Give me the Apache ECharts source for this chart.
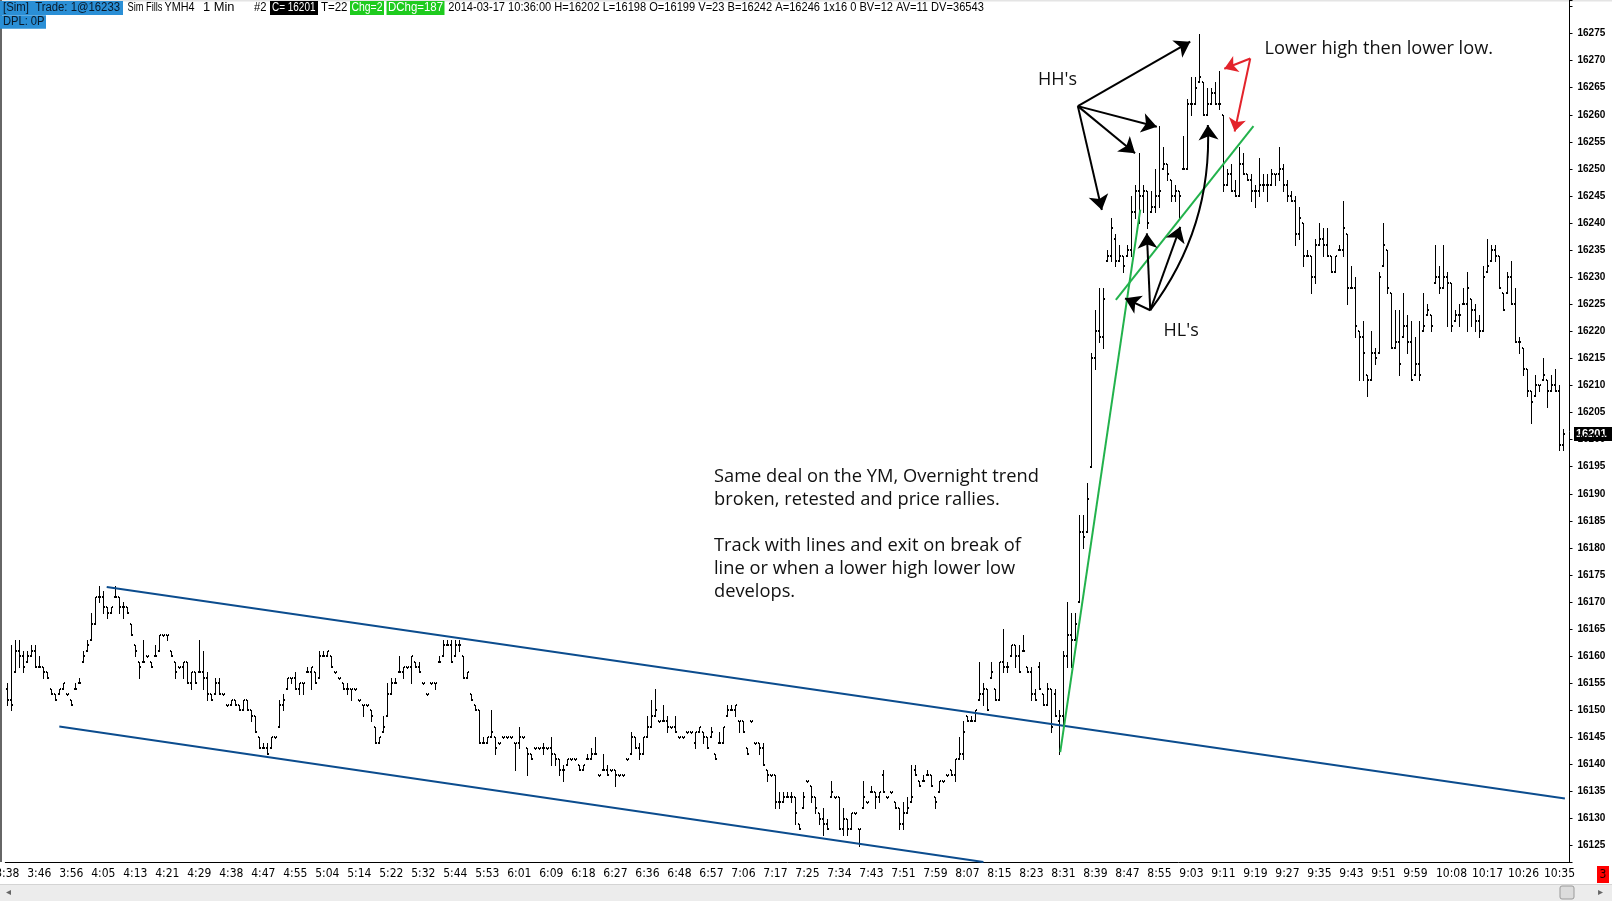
<!DOCTYPE html>
<html lang="en">
<head>
<meta charset="UTF-8">
<title>YMH4 1 Min</title>
<script src="https://cdn.jsdelivr.net/npm/echarts@6/dist/echarts.min.js"></script>
<style>
  html, body { margin: 0; padding: 0; background: #fff; }
  #chart { width: 1612px; height: 901px; }
</style>
</head>
<body>
<div id="chart"></div>
<script>
// axis time labels and the bar each one sits under
const tickTimes = ['3:38','3:46','3:56','4:05','4:13','4:21','4:29','4:38','4:47','4:55',
  '5:04','5:14','5:22','5:32','5:44','5:53','6:01','6:09','6:18','6:27','6:36','6:48','6:57',
  '7:06','7:17','7:25','7:34','7:43','7:51','7:59','8:07','8:15','8:23','8:31','8:39','8:47',
  '8:55','9:03','9:11','9:19','9:27','9:35','9:43','9:51','9:59','10:08','10:17','10:26','10:35'];
const tickBars = [0,8,16,24,32,40,48,56,64,72,80,88,96,104,112,120,128,136,144,152,160,168,176,
  184,192,200,208,216,224,232,240,248,256,264,272,280,288,296,304,312,320,328,336,344,352,
  361,370,379,388];

// 1 minute OHLC
const opens = [
  16154,16152,16157,16161,16160,16159,16160,16161,16158,16158,
  16157,16154,16153,16153,16154,16153,16152,16154,16155,16159,
  16161,16163,16166,16171,16171,16169,16168,16171,16171,16169,
  16169,16166,16162,16159,16159,16160,16159,16160,16161,16164,
  16164,16161,16159,16158,16158,16159,16155,16157,16157,16157,
  16156,16153,16153,16155,16153,16151,16151,16152,16151,16150,
  16152,16150,16149,16145,16143,16143,16143,16145,16147,16151,
  16154,16156,16156,16154,16155,16157,16157,16157,16156,16160,
  16160,16160,16157,16156,16155,16154,16154,16154,16152,16151,
  16151,16150,16147,16144,16146,16149,16153,16155,16157,16157,
  16158,16158,16159,16158,16155,16153,16155,16155,16159,16160,
  16162,16162,16160,16162,16160,16156,16153,16151,16150,16144,
  16144,16145,16145,16144,16145,16145,16145,16144,16144,16145,
  16143,16142,16143,16143,16143,16143,16143,16142,16141,16139,
  16140,16141,16141,16140,16139,16141,16141,16142,16138,16139,
  16139,16139,16139,16138,16138,16141,16142,16145,16143,16142,
  16145,16147,16149,16148,16148,16148,16147,16147,16145,16145,
  16146,16146,16144,16146,16146,16145,16145,16142,16144,16144,
  16149,16150,16150,16148,16148,16143,16148,16144,16144,16143,
  16139,16138,16138,16133,16133,16134,16134,16134,16129,16132,
  16137,16136,16134,16131,16130,16129,16134,16134,16134,16128,
  16130,16128,16131,16128,16132,16133,16135,16135,16134,16138,
  16134,16135,16133,16132,16129,16131,16133,16139,16137,16137,
  16138,16138,16134,16135,16137,16138,16139,16138,16141,16142,
  16149,16148,16148,16152,16153,16154,16156,16154,16152,16159,
  16158,16160,16162,16160,16161,16158,16157,16153,16158,16153,
  16151,16154,16153,16148,16149,16160,16164,16163,16170,16183,
  16183,16195,16215,16220,16219,16233,16234,16237,16233,16234,
  16234,16235,16242,16246,16245,16246,16242,16243,16245,16250,
  16251,16248,16245,16246,16250,16250,16262,16262,16266,16266,
  16260,16262,16264,16262,16260,16247,16249,16246,16245,16251,
  16249,16248,16246,16246,16247,16247,16247,16249,16249,16250,
  16247,16245,16244,16238,16240,16234,16234,16230,16236,16237,
  16236,16234,16231,16235,16235,16238,16228,16228,16220,16219,
  16212,16211,16216,16216,16232,16235,16227,16217,16218,16219,
  16221,16218,16212,16214,16220,16223,16223,16229,16230,16228,
  16230,16229,16222,16223,16225,16225,16226,16224,16222,16220,
  16231,16233,16235,16234,16227,16227,16230,16225,16218,16217,
  16213,16209,16208,16210,16211,16211,16209,16210,16209,16199
];
const highs = [
  16155,16162,16163,16163,16161,16161,16162,16162,16160,16158,
  16157,16154,16153,16154,16155,16153,16152,16155,16156,16161,
  16163,16168,16171,16173,16172,16169,16169,16173,16171,16170,
  16169,16166,16162,16159,16163,16160,16159,16162,16164,16164,
  16164,16161,16159,16158,16159,16159,16157,16157,16163,16161,
  16157,16153,16156,16156,16153,16151,16152,16152,16151,16152,
  16152,16150,16149,16145,16144,16144,16145,16145,16152,16153,
  16156,16156,16157,16155,16155,16158,16158,16157,16161,16161,
  16161,16160,16157,16156,16155,16155,16154,16154,16152,16151,
  16151,16150,16147,16145,16149,16155,16156,16156,16160,16158,
  16158,16160,16159,16159,16155,16153,16155,16155,16160,16163,
  16163,16163,16163,16163,16160,16157,16153,16151,16150,16145,
  16145,16150,16145,16144,16145,16145,16145,16144,16147,16145,
  16143,16142,16143,16143,16144,16143,16145,16142,16141,16140,
  16141,16141,16141,16140,16140,16142,16143,16145,16138,16142,
  16140,16139,16139,16138,16138,16141,16146,16145,16144,16145,
  16149,16152,16154,16148,16151,16149,16147,16149,16145,16145,
  16146,16146,16146,16147,16146,16145,16147,16142,16146,16147,
  16151,16151,16151,16148,16148,16143,16148,16144,16144,16144,
  16139,16138,16138,16135,16135,16135,16135,16134,16129,16135,
  16137,16136,16134,16131,16132,16130,16137,16134,16134,16132,
  16130,16131,16131,16128,16137,16133,16136,16135,16135,16139,
  16134,16135,16133,16132,16133,16134,16140,16140,16137,16138,
  16139,16138,16134,16137,16137,16138,16139,16141,16145,16148,
  16149,16149,16150,16159,16155,16154,16159,16154,16159,16165,
  16159,16162,16162,16162,16164,16158,16158,16154,16159,16153,
  16155,16154,16154,16150,16161,16170,16168,16168,16186,16186,
  16192,16216,16224,16228,16228,16235,16241,16238,16236,16234,
  16236,16245,16247,16253,16247,16246,16246,16250,16258,16254,
  16251,16248,16247,16246,16256,16263,16267,16267,16275,16266,
  16265,16265,16266,16268,16260,16250,16251,16248,16254,16253,
  16249,16249,16247,16252,16249,16249,16250,16249,16254,16251,
  16248,16246,16245,16243,16240,16235,16234,16237,16240,16239,
  16239,16234,16234,16236,16244,16238,16232,16230,16220,16222,
  16212,16220,16217,16231,16240,16235,16227,16224,16224,16227,
  16223,16222,16219,16222,16227,16225,16223,16236,16232,16236,
  16231,16229,16224,16225,16228,16231,16226,16225,16223,16232,
  16237,16236,16236,16234,16227,16231,16233,16228,16219,16217,
  16213,16209,16212,16210,16215,16211,16212,16213,16210,16202
];
const lows = [
  16151,16150,16157,16158,16157,16159,16160,16158,16158,16156,
  16156,16153,16152,16153,16154,16153,16151,16154,16155,16159,
  16161,16163,16166,16170,16168,16167,16168,16171,16168,16167,
  16168,16164,16160,16156,16159,16160,16158,16160,16161,16164,
  16163,16160,16156,16158,16156,16155,16154,16155,16157,16154,
  16152,16152,16153,16153,16153,16151,16151,16151,16150,16150,
  16150,16148,16146,16143,16143,16142,16143,16145,16147,16150,
  16154,16155,16154,16153,16153,16157,16154,16155,16156,16160,
  16160,16158,16157,16156,16154,16153,16152,16154,16152,16149,
  16151,16148,16144,16144,16146,16149,16153,16155,16157,16156,
  16158,16155,16158,16157,16155,16153,16155,16154,16159,16160,
  16162,16159,16160,16161,16156,16156,16152,16150,16144,16144,
  16144,16145,16142,16144,16145,16145,16145,16139,16143,16145,
  16138,16141,16143,16143,16142,16143,16140,16140,16138,16137,
  16140,16141,16141,16139,16139,16141,16141,16142,16138,16139,
  16138,16139,16136,16138,16138,16141,16142,16143,16141,16142,
  16145,16147,16149,16148,16148,16146,16147,16146,16145,16145,
  16146,16146,16143,16146,16144,16143,16145,16141,16144,16144,
  16149,16150,16149,16146,16146,16142,16148,16144,16142,16140,
  16137,16138,16132,16132,16133,16134,16133,16129,16128,16132,
  16137,16133,16131,16129,16127,16128,16134,16134,16128,16127,
  16127,16128,16131,16125,16132,16133,16135,16132,16133,16135,
  16134,16135,16132,16128,16128,16131,16133,16138,16136,16137,
  16138,16136,16132,16135,16137,16138,16138,16137,16141,16141,
  16148,16148,16148,16152,16151,16150,16156,16152,16152,16157,
  16157,16160,16158,16157,16161,16157,16152,16152,16154,16151,
  16151,16146,16149,16142,16147,16158,16158,16163,16170,16180,
  16183,16195,16213,16218,16217,16233,16233,16232,16233,16231,
  16234,16234,16241,16240,16242,16239,16242,16242,16243,16250,
  16248,16244,16244,16241,16250,16250,16260,16262,16266,16260,
  16260,16262,16262,16261,16246,16247,16246,16245,16245,16249,
  16248,16244,16243,16245,16246,16244,16247,16247,16248,16246,
  16244,16244,16236,16237,16232,16234,16227,16229,16236,16234,
  16234,16231,16231,16235,16234,16225,16228,16219,16211,16211,
  16208,16211,16214,16216,16232,16227,16217,16217,16212,16219,
  16216,16211,16212,16211,16220,16223,16220,16229,16227,16228,
  16221,16220,16222,16221,16225,16220,16221,16220,16219,16220,
  16231,16233,16233,16228,16224,16227,16225,16218,16216,16212,
  16208,16203,16208,16209,16211,16206,16209,16209,16198,16198
];
const closes = [
  16152,16151,16161,16160,16158,16160,16161,16158,16158,16157,
  16156,16153,16152,16154,16155,16153,16151,16154,16155,16160,
  16162,16166,16171,16171,16169,16168,16169,16171,16169,16169,
  16168,16164,16161,16158,16159,16160,16158,16160,16164,16164,
  16164,16160,16157,16158,16159,16155,16157,16155,16157,16156,
  16153,16152,16155,16153,16153,16151,16152,16151,16150,16152,
  16150,16149,16146,16143,16143,16142,16145,16145,16151,16152,
  16156,16156,16154,16155,16155,16157,16158,16155,16160,16160,
  16161,16158,16157,16156,16154,16154,16154,16154,16152,16151,
  16151,16149,16144,16145,16147,16153,16155,16155,16157,16158,
  16158,16160,16158,16157,16155,16153,16155,16155,16159,16162,
  16162,16159,16162,16162,16156,16157,16152,16150,16144,16144,
  16145,16146,16143,16144,16145,16145,16145,16144,16145,16145,
  16142,16141,16143,16143,16143,16143,16142,16141,16139,16139,
  16141,16141,16141,16139,16140,16141,16142,16142,16138,16139,
  16138,16139,16138,16138,16138,16141,16145,16143,16142,16145,
  16147,16149,16150,16148,16148,16147,16147,16146,16145,16145,
  16146,16146,16146,16147,16145,16143,16146,16141,16144,16147,
  16150,16150,16151,16148,16146,16142,16148,16144,16143,16140,
  16138,16138,16133,16133,16134,16134,16134,16131,16128,16134,
  16137,16134,16132,16130,16129,16128,16135,16134,16128,16130,
  16128,16131,16131,16128,16134,16133,16135,16134,16135,16135,
  16134,16135,16132,16129,16131,16132,16134,16138,16136,16137,
  16138,16136,16133,16137,16137,16138,16138,16141,16142,16146,
  16148,16148,16150,16153,16154,16150,16157,16152,16159,16158,
  16158,16162,16160,16157,16161,16157,16153,16152,16154,16151,
  16154,16147,16149,16149,16160,16164,16163,16166,16183,16182,
  16189,16215,16220,16219,16226,16234,16239,16233,16234,16232,
  16235,16242,16246,16245,16246,16240,16243,16245,16246,16251,
  16249,16245,16246,16245,16250,16262,16262,16265,16267,16260,
  16262,16264,16262,16262,16247,16249,16246,16245,16251,16249,
  16248,16246,16246,16247,16247,16247,16249,16249,16250,16247,
  16245,16244,16238,16241,16234,16234,16230,16236,16237,16236,
  16234,16231,16234,16235,16239,16228,16228,16221,16219,16216,
  16211,16216,16215,16230,16236,16228,16217,16218,16214,16221,
  16218,16211,16214,16212,16221,16224,16221,16230,16228,16230,
  16229,16221,16223,16223,16225,16228,16224,16222,16220,16230,
  16232,16235,16234,16228,16224,16230,16225,16218,16218,16213,
  16209,16207,16210,16210,16212,16209,16210,16209,16199,16201
];

// drawn lines, as [bar index, price] end points
const channelUpper = [[24.85, 16172.8], [389.35, 16133.7]];
const channelLower = [[13, 16147.0], [244, 16122.0]];
const greenSteep = [[263.2, 16142.3], [283.2, 16242.5]];
const greenShallow = [[277.1, 16225.8], [311.5, 16257.9]];
const hhFrom = [267.6, 16261.6];
const hhTo = [[295.7, 16273.5], [287.35, 16257.8], [281.9, 16252.9], [273.6, 16242.4]];
const hlFrom = [285.7, 16223.9];
const hlTo = [[284.85, 16238.1], [293.2, 16239.3], [279.4, 16226.1]];
const hlCurveTo = [300.1, 16258.1];
const redFrom = [310.7, 16270.4];
const redTo = [[304.2, 16268.5], [306.8, 16256.9]];

const noteLines = ['Same deal on the YM, Overnight trend', 'broken, retested and price rallies.', '',
  'Track with lines and exit on break of', 'line or when a lower high lower low', 'develops.'];

const chart = echarts.init(document.getElementById('chart'));

const nCats = opens.length + 1;
const categories = [];
for (let i = 0; i < nCats; i++) categories.push(String(i));
const bars = opens.map((o, i) => [i, o, highs[i], lows[i], closes[i]]);

function renderBar(params, api) {
  const i = api.value(0);
  const ph = api.coord([i, api.value(2)]);
  const cx = Math.round(ph[0]);
  const yh = Math.round(ph[1]);
  const yl = Math.round(api.coord([i, api.value(3)])[1]);
  const yo = Math.round(api.coord([i, api.value(1)])[1]);
  const yc = Math.round(api.coord([i, api.value(4)])[1]);
  const ink = { fill: '#000' };
  return {
    type: 'group',
    children: [
      { type: 'rect', shape: { x: cx, y: yh, width: 1, height: Math.max(yl - yh + 1, 2) }, style: ink },
      { type: 'rect', shape: { x: cx - 1, y: yo - 1, width: 1, height: 2 }, style: ink },
      { type: 'rect', shape: { x: cx + 1, y: yc - 1, width: 1, height: 2 }, style: ink }
    ]
  };
}

const narrow = '"Liberation Sans Narrow", "DejaVu Sans Condensed", sans-serif';
const noteFont = '"Open Sans", "Noto Sans", sans-serif';

chart.setOption({
  animation: false,
  backgroundColor: '#fff',
  grid: { left: 5.3, right: 42.5, top: 0, bottom: 38.5, containLabel: false, outerBoundsMode: 'none' },
  xAxis: [{
    type: 'category',
    data: categories,
    boundaryGap: true,
    axisLine: { onZero: false, lineStyle: { color: '#000', width: 1 } },
    axisTick: {
      alignWithLabel: true, length: 3, lineStyle: { color: '#000' },
      interval: idx => tickBars.indexOf(idx) >= 0
    },
    axisLabel: {
      interval: idx => tickBars.indexOf(idx) >= 0,
      formatter: (v, idx) => tickTimes[tickBars.indexOf(idx)] || '',
      color: '#000', fontFamily: narrow, fontSize: 12, margin: 5
    },
    splitLine: { show: false }
  }, {
    type: 'value', min: -0.5, max: nCats - 0.5, show: false,
    axisLine: { show: false, onZero: false }, axisTick: { show: false }, axisLabel: { show: false }
  }],
  yAxis: {
    type: 'value', position: 'right',
    min: 16121.9, max: 16281.2, splitNumber: 32,
    axisLine: { show: true, onZero: false, lineStyle: { color: '#000', width: 1 } },
    axisTick: { show: true, length: 3, lineStyle: { color: '#000' } },
    splitLine: { show: false },
    axisLabel: {
      margin: 8, color: '#000', fontFamily: '"Liberation Sans", Arial, sans-serif',
      fontWeight: 'bold', fontSize: 10,
      formatter: v => (Math.abs(v % 5) < 1e-6 && v < 16278 ? String(Math.round(v)) : '')
    }
  },
  series: [{
    type: 'custom',
    renderItem: renderBar,
    data: bars,
    encode: { x: 0, y: [1, 2, 3, 4] },
    z: 2
  }, {
    type: 'lines', coordinateSystem: 'cartesian2d', xAxisIndex: 1, yAxisIndex: 0,
    symbol: 'none', silent: true, z: 3,
    lineStyle: { color: '#0b4c8e', width: 2, opacity: 1 },
    data: [{ coords: channelUpper }, { coords: channelLower }]
  }, {
    type: 'lines', coordinateSystem: 'cartesian2d', xAxisIndex: 1, yAxisIndex: 0,
    symbol: 'none', silent: true, z: 4,
    lineStyle: { color: '#22b24c', width: 2, opacity: 1 },
    data: [{ coords: greenSteep }, { coords: greenShallow }]
  }, {
    type: 'lines', coordinateSystem: 'cartesian2d', xAxisIndex: 1, yAxisIndex: 0,
    symbol: ['none', 'arrow'], symbolSize: [12, 15], silent: true, z: 5,
    lineStyle: { color: '#000', width: 2, opacity: 1 },
    data: hhTo.map(t => ({ coords: [hhFrom, t] }))
      .concat(hlTo.map(t => ({ coords: [hlFrom, t] })))
      .concat([{ coords: [hlFrom, hlCurveTo], lineStyle: { curveness: -0.18 } }])
  }, {
    type: 'lines', coordinateSystem: 'cartesian2d', xAxisIndex: 1, yAxisIndex: 0,
    symbol: ['none', 'arrow'], symbolSize: [10, 13], silent: true, z: 5,
    lineStyle: { color: '#e3232b', width: 2, opacity: 1 },
    data: redTo.map(t => ({ coords: [redFrom, t] }))
  }]
});

// screen furniture: header strip, notes, scrollbar, last price tag
const hdrFont = '12px "Liberation Sans", Arial, sans-serif';
const measure = document.createElement('canvas').getContext('2d');
measure.font = hdrFont;
// squeeze each header piece to the width it takes in the platform's narrow font
const hdr = (x, y, text, width, fill) => ({
  type: 'text', x: x, y: y,
  scaleX: width / measure.measureText(text).width,
  style: { text: text, fill: fill || '#000', font: hdrFont, verticalAlign: 'middle' }
});
const box = (x, y, w, h, fill) => ({ type: 'rect', shape: { x: x, y: y, width: w, height: h }, style: { fill: fill } });
const note = (x, y, text, size) => ({
  type: 'text', x: x, y: y,
  style: { text: text, fill: '#111', fontFamily: noteFont, fontSize: size, verticalAlign: 'middle' }
});

const lastClose = closes[closes.length - 1];
const lastY = Math.round(chart.convertToPixel({ yAxisIndex: 0 }, lastClose));

const graphic = [
  box(0, 0, 1612, 1.5, '#e4e4e4'),
  box(0, 0, 2, 862, '#666'),
  box(0, 1, 123, 14, '#2a8fd6'),
  hdr(3, 8, '[Sim]  Trade: 1@16233', 117, '#0a1a2a'),
  hdr(127.5, 8, 'Sim Fills', 35),
  hdr(164.5, 8, 'YMH4', 30),
  hdr(203, 8, '1 Min', 31.5),
  hdr(254, 8, '#2', 12.5),
  box(270, 1, 48, 14, '#000'),
  hdr(272, 8, 'C= 16201', 43.5, '#fff'),
  hdr(321, 8, 'T=22', 26.5),
  box(350, 1, 34, 14, '#1ecb1e'),
  hdr(351.5, 8, 'Chg=2', 31, '#fff'),
  box(386.5, 1, 58, 14, '#1ecb1e'),
  hdr(388, 8, 'DChg=187', 55, '#fff'),
  hdr(448.3, 8, '2014-03-17 10:36:00 H=16202 L=16198 O=16199 V=23 B=16242 A=16246 1x16 0 BV=12 AV=11 DV=36543', 535.5),
  box(0, 15.3, 46, 13.5, '#2a8fd6'),
  hdr(3, 22, 'DPL: 0P', 41.5, '#0a1a2a'),

  note(1038, 80, "HH's", 18),
  note(1163.6, 331, "HL's", 18),
  note(1264.5, 49, 'Lower high then lower low.', 18.2),

  box(1574, lastY - 7, 38, 14, '#000'),
  { type: 'text', x: 1576, y: lastY, style: { text: String(lastClose), fill: '#fff', font: 'bold 11px "Liberation Sans", Arial, sans-serif', verticalAlign: 'middle' } },

  box(0, 884, 1612, 17, '#ececec'),
  box(0, 884, 1612, 1, '#d4d4d4'),
  { type: 'rect', shape: { x: 1560, y: 886, width: 14, height: 13, r: 2 }, style: { fill: '#dcdcdc', stroke: '#9a9a9a', lineWidth: 1 } },
  { type: 'text', x: 8, y: 892, style: { text: '◂', fill: '#666', fontSize: 10, align: 'center', verticalAlign: 'middle' } },
  { type: 'text', x: 1600, y: 892, style: { text: '▸', fill: '#666', fontSize: 10, align: 'center', verticalAlign: 'middle' } },
  box(1597, 866, 12, 17, '#ff0000'),
  { type: 'text', x: 1603, y: 874.5, style: { text: '3', fill: '#220000', font: '12px ' + narrow, align: 'center', verticalAlign: 'middle' } }
];
noteLines.forEach((t, k) => {
  if (t) graphic.push(note(714, 477 + k * 23, t, 18.3));
});
chart.setOption({ graphic: graphic });
</script>
</body>
</html>
